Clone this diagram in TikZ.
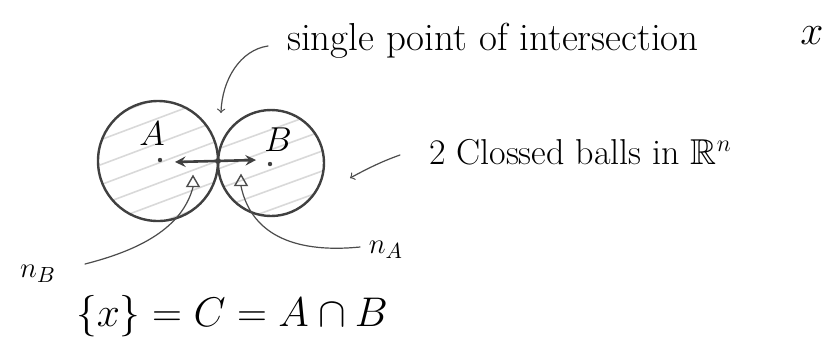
\documentclass[tikz,border=0pt]{standalone}
\usepackage{amsmath,amsfonts,amssymb}
\usepackage{tikz}
\usetikzlibrary{shapes.geometric}
\newcommand{\handsize}{\fontsize{19.5}{22}\selectfont}

\begin{document}
\begin{tikzpicture}[x=0.5pt, y=-0.5pt, line cap=round,
  ball/.style={draw, circle, line width=1.2pt, inner sep=0pt, color=black!75},
  pen/.style={line width=0.6pt, color=black!70},
  hatch/.style={line width=0.8pt, color=black!15},
  dot/.style={circle, fill=black!75, inner sep=0pt, minimum size=2.2pt},
  tri/.style={draw, regular polygon, regular polygon sides=3, inner sep=0pt,
    minimum size=7pt, line width=0.7pt, color=black!70}]
\useasboundingbox (0,0) rectangle (828,345);
\fill[white] (0,0) rectangle (828,345);

% shading of the two balls
\begin{scope}
\clip (158,161) circle (30pt);
\foreach \d in {120,140,165,185,205,225,245}
  \draw[hatch] (100,\d) -- +(120,-45);
\end{scope}
\begin{scope}
\clip (271,163) circle (26.5pt);
\foreach \d in {150,170,190,210,230}
  \draw[hatch] (215,\d) -- +(110,-40);
\end{scope}

% the two closed balls
\node[ball, minimum size=60pt] (ballA) at (158,161) {};
\node[ball, minimum size=53pt] (ballB) at (271,163) {};
\node[dot] (cA) at (160,160) {};
\node[dot] (cB) at (270,164) {};
\node[dot, minimum size=3pt] (x) at (218,161) {};
\node[font=\fontsize{16}{18}\selectfont] (labA) at (152,134) {$A$};
\node[font=\fontsize{16}{18}\selectfont] (labB) at (278,140) {$B$};

% normals at the contact point
\draw[line width=1.3pt, color=black!75, <->, >=stealth] (175,162) -- (256,160);
\node[tri] (tB) at (193,183) {};
\node[tri] (tA) at (241,182) {};

% labels
\node[font=\handsize, anchor=base west] (top) at (280,50) {single point of intersection};
\node[font=\handsize] (xlab) at (812,36) {$x$};
\node[font=\fontsize{18}{21}\selectfont, anchor=base west] (balls) at (422,164)
  {2 Clossed balls in $\mathbb{R}^n$};
\node[font=\fontsize{15}{17}\selectfont] (nB) at (38,274) {$n_B$};
\node[font=\fontsize{15}{17}\selectfont] (nA) at (386,250) {$n_A$};
\node[font=\fontsize{22}{25}\selectfont] (eq) at (232,316) {$\{x\} = C = A \cap B$};

% pointers
\coordinate (topend) at (268,46);
\coordinate (tip) at (221,113);
\draw[pen, ->] (topend) .. controls (240,50) and (222,80) .. (tip);
\coordinate (ballsend) at (400,155);
\coordinate (ballstip) at (350,178);
\draw[pen, ->] (ballsend) .. controls (380,162) and (365,170) .. (ballstip);
\coordinate (nBend) at (85,264);
\draw[pen] (nBend) .. controls (140,250) and (182,228) .. (tB.south);
\coordinate (nAend) at (360,247);
\draw[pen] (nAend) .. controls (300,253) and (252,238) .. (tA.south);
\end{tikzpicture}
\end{document}
